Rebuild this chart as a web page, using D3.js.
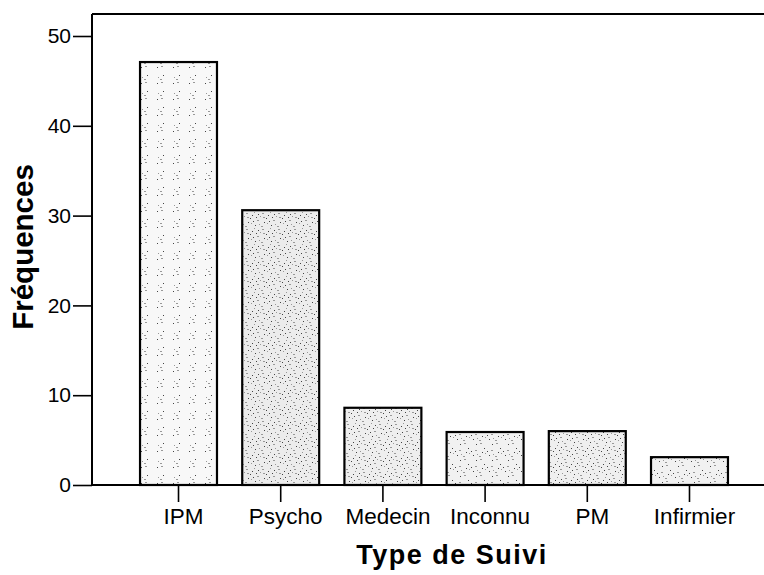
<!DOCTYPE html>
<html>
<head>
<meta charset="utf-8">
<script src="https://cdn.jsdelivr.net/npm/d3@7"></script>
<style>
  html, body { margin: 0; padding: 0; background: #fff; }
  svg { display: block; }
  text { font-family: "Liberation Sans", Arial, Helvetica, sans-serif; fill: #000; }
</style>
</head>
<body>
<svg id="chart" width="764" height="575"></svg>
<script>
// ---- data ----
const categories = ["IPM", "Psycho", "Medecin", "Inconnu", "PM", "Infirmier"];
const frequencies = [47.1, 30.6, 8.6, 5.9, 6.0, 3.1];
const yTicks = [0, 10, 20, 30, 40, 50];
const xTitle = "Type de Suivi";
const yTitle = "Fréquences";

// ---- styles (kept apart from data) ----
const barTints = ["#f8f8f8", "#ececec", "#eeeeee", "#f1f1f1", "#efefef", "#f1f1f1"];
const barDensity = [1, 3, 3, 2, 3, 2];

const W = 764, H = 575;
const svg = d3.select("#chart");

const x = d3.scaleBand()
  .domain(categories)
  .range([92, 776])
  .paddingInner(0.247)
  .paddingOuter(0.47);

const y = d3.scaleLinear().domain([0, 50]).range([485, 36]);

// stipple patterns
const defs = svg.append("defs");
const dots = [[1,2],[5,7],[9,1],[3,11],[12,9],[7,4],[14,13],[10,14],[2,6],[13,3],[6,12],[11,6],[0,15],[8,10],[15,5]];
barTints.forEach((c, i) => {
  const p = defs.append("pattern")
    .attr("id", "stip" + i)
    .attr("patternUnits", "userSpaceOnUse")
    .attr("width", 16).attr("height", 16)
    .attr("patternTransform", `translate(${i * 5},${i * 3})`);
  p.append("rect").attr("width", 16).attr("height", 16).attr("fill", c);
  dots.forEach((d, k) => {
    if (k % 3 >= barDensity[i]) return;
    p.append("rect").attr("x", d[0]).attr("y", d[1])
      .attr("width", k % 4 === 0 ? 2 : 1).attr("height", 1)
      .attr("fill", k % 2 ? "#444" : "#999");
  });
});

// bars
svg.append("g").selectAll("rect")
  .data(categories)
  .join("rect")
  .attr("x", d => x(d))
  .attr("y", (d, i) => y(frequencies[i]))
  .attr("width", x.bandwidth())
  .attr("height", (d, i) => y(0) - y(frequencies[i]))
  .attr("fill", (d, i) => `url(#stip${i})`)
  .attr("stroke", "#000")
  .attr("stroke-width", 2.2);

// top frame line
svg.append("line")
  .attr("x1", 92).attr("x2", W)
  .attr("y1", 14).attr("y2", 14)
  .attr("stroke", "#000").attr("stroke-width", 2);

// y axis
const yAxis = svg.append("g")
  .attr("transform", "translate(92,0)")
  .call(d3.axisLeft(y).tickValues(yTicks).tickSize(19).tickPadding(2).tickFormat(d3.format("d")));
yAxis.select(".domain").remove();
yAxis.append("line").attr("x1", 0).attr("x2", 0).attr("y1", 14).attr("y2", 486)
  .attr("stroke", "#000").attr("stroke-width", 2);
yAxis.selectAll(".tick line").attr("stroke", "#000").attr("stroke-width", 1.6);
yAxis.selectAll(".tick text")
  .style("font-size", "21px")
  .style("font-family", "'Liberation Sans', Arial, sans-serif")
  .attr("fill", "#000");

// x axis
const xAxis = svg.append("g")
  .attr("transform", "translate(0,485)")
  .call(d3.axisBottom(x).tickSize(17).tickPadding(6.5));
xAxis.select(".domain").remove();
xAxis.append("line").attr("x1", 91).attr("x2", W).attr("y1", 0).attr("y2", 0)
  .attr("stroke", "#000").attr("stroke-width", 2);
xAxis.selectAll(".tick line").attr("stroke", "#000").attr("stroke-width", 1.6);
xAxis.selectAll(".tick text")
  .attr("x", 5)
  .style("font-size", "22.5px")
  .style("font-family", "'Liberation Sans', Arial, sans-serif")
  .attr("fill", "#000");

// titles
svg.append("text")
  .attr("x", 452).attr("y", 564)
  .attr("text-anchor", "middle")
  .style("font-size", "27px")
  .style("font-weight", "bold")
  .style("letter-spacing", "1.5px")
  .text(xTitle);

svg.append("text")
  .attr("transform", "translate(33,247) rotate(-90)")
  .attr("text-anchor", "middle")
  .style("font-size", "29.5px")
  .style("font-weight", "bold")
  .text(yTitle);
</script>
</body>
</html>
